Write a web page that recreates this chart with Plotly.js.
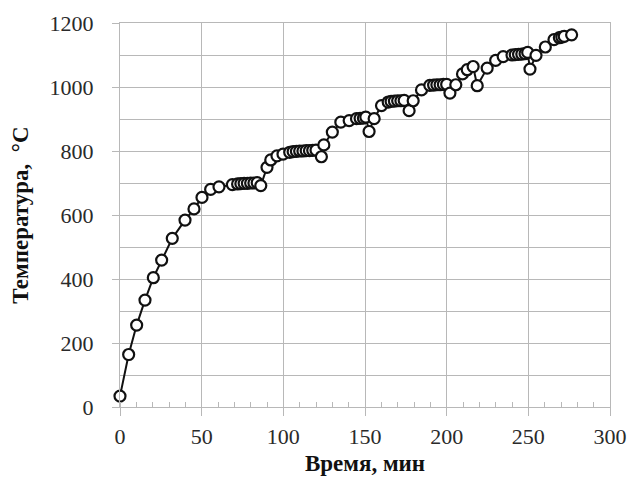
<!DOCTYPE html>
<html>
<head>
<meta charset="utf-8">
<script src="https://cdn.plot.ly/plotly-3.0.1.min.js"></script>
<style>html,body{margin:0;padding:0;background:#fff;}#chart{width:633px;height:483px;}</style>
</head>
<body>
<div id="chart"></div>
<script>
const timeMin = [0, 5.3, 10.2, 15.3, 20.4, 25.5, 32, 39.8, 45.3, 50.2, 55.5, 60.6, 68.8, 72, 74, 76, 78, 80, 82, 84, 86.2, 90, 92.3, 96.1, 99.8, 103.9, 106, 108, 110, 112, 114, 116, 118, 120, 123.3, 124.8, 130, 135.2, 140.3, 144.8, 147, 149, 150.5, 152.5, 155.6, 160.1, 164.2, 166, 168, 170, 172, 174, 177, 179.5, 184.6, 189.7, 192, 194, 196, 198, 200, 202, 205.6, 209.7, 212.6, 216.2, 218.7, 224.8, 230, 234.6, 240, 242, 244, 246, 248, 249.6, 251, 254.7, 260.4, 265.7, 269, 270.5, 272, 276.5];
const temperatureC = [34, 164, 256, 334, 404, 459, 527, 584, 619, 655, 680, 688, 695, 697, 698, 699, 699, 700, 700, 701, 692, 749, 772, 785, 790, 796, 798, 799, 800, 800, 801, 801, 802, 803, 782, 819, 859, 890, 895, 901, 902, 903, 906, 861, 901, 942, 953, 955, 956, 957, 957, 958, 926, 957, 991, 1005, 1006, 1007, 1007, 1008, 1008, 981, 1007, 1041, 1054, 1064, 1004, 1059, 1083, 1095, 1100, 1101, 1102, 1103, 1104, 1108, 1056, 1099, 1125, 1148, 1154, 1156, 1158, 1163];
const xTickVals = [0, 50, 100, 150, 200, 250, 300];
const yTickVals = [0, 200, 400, 600, 800, 1000, 1200];
const xTitle = 'Время, мин';
const yTitle = 'Температура,  °С';

const gridColor = '#b8b8b8';
const tickFont = {family: '"Liberation Serif", "Times New Roman", serif', size: 22, color: '#2a2a2a'};
const titleFont = {family: '"Liberation Serif", "Times New Roman", serif', size: 23, color: '#111', weight: 'bold'};

Plotly.newPlot('chart', [{
  x: timeMin, y: temperatureC,
  type: 'scatter', mode: 'lines+markers', cliponaxis: false,
  line: {color: '#111', width: 2},
  marker: {symbol: 'circle', size: 11, color: '#fff', line: {color: '#111', width: 2.2}},
  showlegend: false, hoverinfo: 'skip'
}], {
  width: 633, height: 483,
  margin: {l: 120, r: 23, t: 23, b: 76},
  paper_bgcolor: '#fff', plot_bgcolor: '#fff',
  xaxis: {
    range: [0, 300], tickvals: xTickVals, ticktext: xTickVals.map(String),
    ticks: 'outside', ticklen: 8, tickcolor: gridColor, tickwidth: 1,
    showgrid: true, gridcolor: gridColor, gridwidth: 1, zeroline: false,
    showline: true, linecolor: gridColor, linewidth: 1, mirror: true,
    tickfont: tickFont, ticklabelstandoff: 2,
    minor: {dtick: 10, ticks: 'inside', ticklen: 5, tickcolor: gridColor, showgrid: false},
    title: {text: xTitle, font: titleFont, standoff: 6}
  },
  yaxis: {
    range: [0, 1200], tickvals: yTickVals, ticktext: yTickVals.map(String),
    ticks: 'outside', ticklen: 7, tickcolor: gridColor, tickwidth: 1,
    showgrid: true, gridcolor: gridColor, gridwidth: 1, zeroline: false,
    showline: true, linecolor: gridColor, linewidth: 1, mirror: true,
    tickfont: tickFont, ticklabelstandoff: 14,
    minor: {dtick: 100, ticks: '', showgrid: true, gridcolor: gridColor, gridwidth: 1},
    title: {text: yTitle, font: titleFont, standoff: 14}
  }
}, {staticPlot: true, displayModeBar: false});
</script>
</body>
</html>
